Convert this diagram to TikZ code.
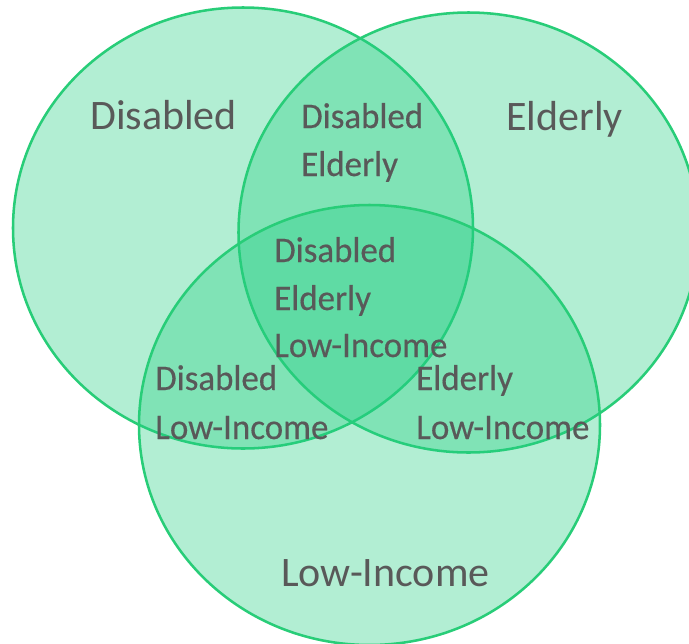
\documentclass[tikz,border=0pt]{standalone}
\usepackage{fontspec}
\setmainfont{Carlito}
\newfontfamily\condfont{Carlito}[FakeStretch=0.97,FakeBold=0.4]
\definecolor{venfill}{RGB}{35,206,129}
\definecolor{venline}{RGB}{40,205,120}
\definecolor{ventext}{RGB}{89,89,89}
\begin{document}
\begin{tikzpicture}[x=0.75pt,y=-0.75pt,
  setcircle/.style={fill=venfill,fill opacity=0.35,draw=venline,line width=1.9pt},
  biglabel/.style={anchor=base west,inner sep=0pt,text=ventext,font=\fontsize{31.5}{36}\selectfont},
  smalllabel/.style={anchor=base west,inner sep=0pt,text=ventext,font=\condfont\fontsize{27}{36}\selectfont}]
\useasboundingbox (0,0) rectangle (689,643);
\begin{scope}
\clip (0,0) rectangle (689,643);
\path[setcircle] (243,228) ellipse [x radius=230, y radius=220.5];
\path[setcircle] (468.5,232.5) ellipse [x radius=230, y radius=220];
\path[setcircle] (369.5,425) ellipse [x radius=230.5, y radius=220];
\end{scope}
% single sets
\node[biglabel] (lblD) at (90,129) {Disabled};
\node[biglabel] (lblE) at (506,130) {Elderly};
\node[biglabel] (lblL) at (281,586) {Low-Income};
% Disabled & Elderly
\node[smalllabel] (de1) at (301,128) {Disabled};
\node[smalllabel] (de2) at (301,176) {Elderly};
% all three
\node[smalllabel] (del1) at (274,262) {Disabled};
\node[smalllabel] (del2) at (274,310) {Elderly};
\node[smalllabel] (del3) at (274,357) {Low-Income};
% Disabled & Low-Income
\node[smalllabel] (dl1) at (155,390) {Disabled};
\node[smalllabel] (dl2) at (155,439) {Low-Income};
% Elderly & Low-Income
\node[smalllabel] (el1) at (416,390) {Elderly};
\node[smalllabel] (el2) at (416,439) {Low-Income};
\end{tikzpicture}
\end{document}
